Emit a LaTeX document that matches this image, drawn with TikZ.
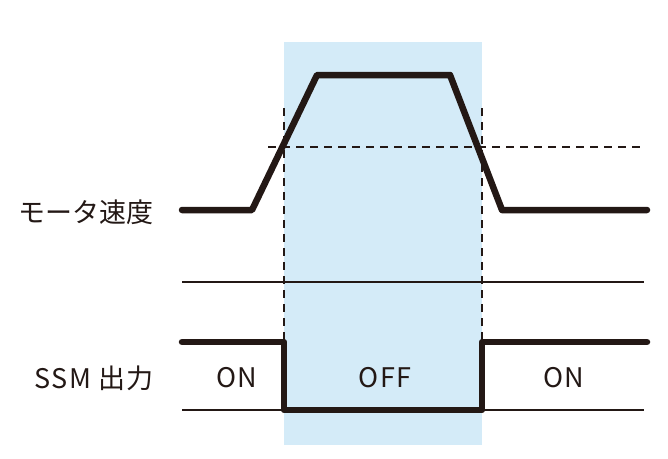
\documentclass[tikz,border=0pt]{standalone}
\usepackage{fontspec}
\setmainfont{Noto Sans CJK JP}
\setsansfont{Noto Sans CJK JP}
\definecolor{chartblack}{RGB}{35,24,21}
\definecolor{chartblue}{RGB}{212,235,248}
\tikzset{every picture/.style={/utils/exec={\sffamily}}}
\usetikzlibrary{positioning}

\begin{document}
\begin{tikzpicture}[x=1pt, y=-1pt,
    signal/.style={line width=6.5pt, chartblack, line cap=round, line join=round},
    level/.style={line width=2.2pt, chartblack},
    marker/.style={line width=2.5pt, chartblack, dash pattern=on 8pt off 6pt},
    lbl/.style={font=\fontsize{27}{32}\selectfont, text=chartblack, inner sep=0pt},
    state/.style={lbl, font=\fontsize{27}{32}\selectfont\addfontfeature{LetterSpace=5}}]

  \useasboundingbox (0,0) rectangle (668,458);

  % off window:
  \fill [chartblue] (284,42) rectangle (482,445);

  % threshold and switch points:
  \draw [marker] (268,147) -- (643,147);
  \foreach \x in {284,482} \draw [marker] (\x,108) -- (\x,340);

  % motor speed:
  \draw [signal] (182,210) -- (252,210) -- (317,75) -- (450,75) -- (502,210) -- (647,210);

  % SSM output:
  \draw [level] (182,282) -- (644,282);
  \draw [level] (182,410) -- (644,410);
  \draw [signal] (182,342) -- (284,342) -- (284,410) -- (482,410) -- (482,342) -- (647,342);

  % labels:
  \node [lbl, anchor=east] (speed) at (154,212) {モータ速度};
  \node [lbl, anchor=east] (ssm) at (154,378) {\addfontfeature{LetterSpace=5}SSM\ 出力};
  \node [state] (on1) at (237,378) {ON};
  \node [state] (off) at (385,378) {OFF};
  \node [state] (on2) at (564,378) {ON};

\end{tikzpicture}
\end{document}
